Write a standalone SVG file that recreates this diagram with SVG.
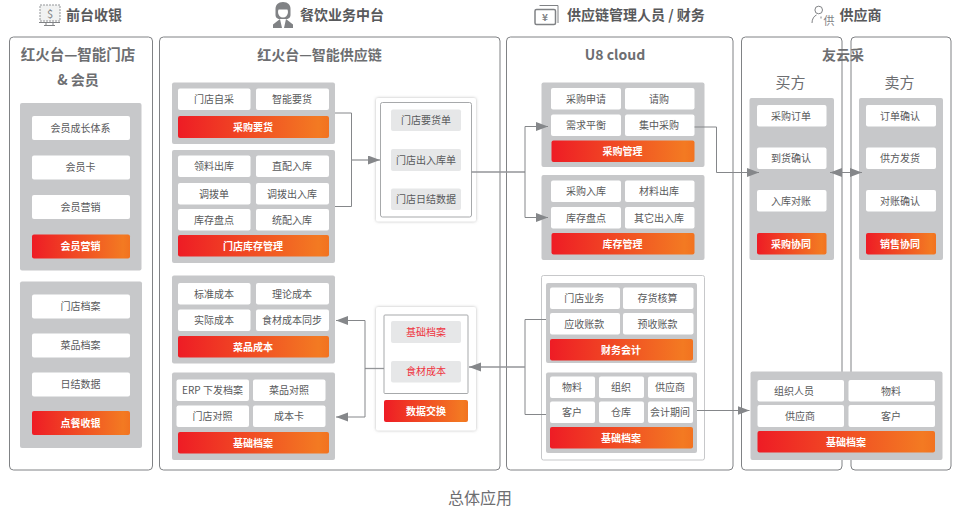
<svg xmlns="http://www.w3.org/2000/svg" width="962" height="516" viewBox="0 0 962 516">
<defs>
<linearGradient id="rg" x1="0" y1="0" x2="1" y2="0"><stop offset="0" stop-color="#ee1c25"/><stop offset="0.93" stop-color="#f37a22"/><stop offset="1" stop-color="#f27220"/></linearGradient>
<filter id="sh" x="-10%" y="-10%" width="120%" height="120%"><feDropShadow dx="0" dy="0" stdDeviation="1.8" flood-color="#888" flood-opacity="0.6"/></filter>
<marker id="ah" markerUnits="userSpaceOnUse" markerWidth="13" markerHeight="10" refX="12" refY="4.500" orient="auto-start-reverse"><path d="M0 0L12 4.500L0 9Z" fill="#85878a"/></marker>
</defs>
<style>
text{font-family:"Noto Sans CJK SC","Noto Sans",sans-serif;text-anchor:middle}
.h{font-size:14px;font-weight:700;fill:#58595b;text-anchor:start}
.t{font-size:14px;font-weight:700;fill:#6d6e71}
.s{font-size:15px;fill:#6d6e71}
.i,.b,.red{font-size:10px;transform:translateY(-.4px)}
.i{fill:#58595b}
.b{font-weight:700;fill:#fff}
.red{fill:#ef3340}
.p{fill:#fff;stroke:#808285;stroke-width:1}
.g{fill:#c7c8ca}
.w{fill:#fff}
.r{fill:url(#rg)}
.c{fill:#fff;filter:url(#sh)}
.e{fill:#e6e7e8}
.f{fill:none;stroke:#a7a9ab;stroke-width:1}
.l{fill:none;stroke:#85878a;stroke-width:1}
.l2{fill:none;stroke:#939598;stroke-width:1.300}
.ic{fill:none;stroke:#808285;stroke-width:1}
</style>
<rect width="962" height="516" fill="#fff"/>

<g id="headers">
<g id="h1"><rect x="40" y="5" width="20" height="16" fill="#f1f2f2" stroke="#939598" stroke-dasharray="2 1"/><path class="ic" d="M39 22.500H60M46 23V25.500M53 23V25.500M44 25.500H55"/><text x="50" y="18" style="font-size:11px;fill:#808285">$</text><text class="h" x="66" y="20">前台收银</text></g>
<g id="h2"><path d="M283 2c-5 0-7.500 3-7.500 7v6c0 2 1 3 3 4h9c2-1 3-2 3-4V9c0-4-2.500-7-7.500-7Z" fill="#808285"/><ellipse cx="283" cy="12" rx="5" ry="5.500" fill="#fff"/><path d="M278 9.500c2 0 7 0 10 0l-1-4h-8Z" fill="#808285"/><path d="M280 19l-7 5.500V28h9ZM286 19l7 5.500V28h-9Z" fill="#808285"/><text class="h" x="300" y="20">餐饮业务中台</text></g>
<g id="h3"><rect x="535" y="9.500" width="20.500" height="15" rx="1.500" fill="none" stroke="#808285" stroke-width="1.500"/><path class="ic" d="M539.500 5.500H558V23"/><text x="545" y="21" style="font-size:10px;font-weight:700;fill:#808285">¥</text><text class="h" x="567" y="20">供应链管理人员 / 财务</text></g>
<g id="h4"><circle cx="818.700" cy="10" r="3.800" class="ic"/><path class="ic" d="M812 23c0-4 2-7 4.500-8M821 16.500v2"/><text x="829" y="24.500" style="font-size:11px;fill:#808285">供</text><text class="h" x="839.500" y="20">供应商</text></g>
</g>

<g id="panels">
<rect class="p" x="9.500" y="37" width="143" height="433" rx="4"/>
<rect class="p" x="159.500" y="37" width="340.500" height="433" rx="4"/>
<rect class="p" x="506.500" y="37" width="226.500" height="433" rx="4"/>
<rect class="p" x="741.500" y="37" width="100.500" height="433" rx="4"/>
<rect class="p" x="851" y="37" width="100" height="433" rx="4"/>
<text class="t" x="78" y="60.400" style="font-size:14.500px">红火台—智能门店</text>
<text class="t" x="78" y="84.700">&amp; 会员</text>
<text class="t" x="319.500" y="60.400">红火台—智能供应链</text>
<text class="t" x="615" y="60.400">U8 cloud</text>
<text class="t" x="843" y="60.400">友云采</text>
<text class="s" x="790.500" y="87.500">买方</text>
<text class="s" x="899.500" y="87.500">卖方</text>
</g>

<g id="n-member"><rect class="g" x="20" y="103" width="121.500" height="167.500" rx="2"/>
<rect class="w" x="32" y="116" width="98" height="24" rx="2"/><text class="i" x="80.500" y="132">会员成长体系</text>
<rect class="w" x="32" y="155.500" width="98" height="24" rx="2"/><text class="i" x="80.500" y="171.500">会员卡</text>
<rect class="w" x="32" y="195" width="98" height="24" rx="2"/><text class="i" x="80.500" y="211">会员营销</text>
<rect class="r" x="32" y="234.500" width="98" height="24" rx="2"/><text class="b" x="80.500" y="250.500">会员营销</text></g>

<g id="n-pos"><rect class="g" x="20" y="281.500" width="122" height="166.500" rx="2"/>
<rect class="w" x="32" y="294.500" width="98" height="24" rx="2"/><text class="i" x="80.500" y="310.500">门店档案</text>
<rect class="w" x="32" y="333.500" width="98" height="24" rx="2"/><text class="i" x="80.500" y="349.500">菜品档案</text>
<rect class="w" x="32" y="372.500" width="98" height="24" rx="2"/><text class="i" x="80.500" y="388.500">日结数据</text>
<rect class="r" x="32" y="411" width="98" height="24" rx="2"/><text class="b" x="80.500" y="427">点餐收银</text></g>

<g id="n-purchase"><rect class="g" x="172" y="82.500" width="163" height="61.500" rx="2"/>
<rect class="w" x="178" y="88.500" width="72.500" height="21.500" rx="2"/><text class="i" x="214" y="103.500">门店自采</text>
<rect class="w" x="256" y="88.500" width="73" height="21.500" rx="2"/><text class="i" x="292" y="103.500">智能要货</text>
<rect class="r" x="178" y="116" width="151" height="22" rx="2"/><text class="b" x="253" y="131">采购要货</text></g>

<g id="n-stock"><rect class="g" x="172" y="150" width="163" height="113" rx="2"/>
<rect class="w" x="178" y="155.500" width="72.500" height="21.500" rx="2"/><text class="i" x="214" y="170.500">领料出库</text>
<rect class="w" x="256" y="155.500" width="73" height="21.500" rx="2"/><text class="i" x="292" y="170.500">直配入库</text>
<rect class="w" x="178" y="183" width="72.500" height="21.500" rx="2"/><text class="i" x="214" y="198">调拨单</text>
<rect class="w" x="256" y="183" width="73" height="21.500" rx="2"/><text class="i" x="292" y="198">调拨出入库</text>
<rect class="w" x="178" y="209" width="72.500" height="21.500" rx="2"/><text class="i" x="214" y="224">库存盘点</text>
<rect class="w" x="256" y="209" width="73" height="21.500" rx="2"/><text class="i" x="292" y="224">统配入库</text>
<rect class="r" x="178" y="235" width="151" height="21.500" rx="2"/><text class="b" x="253" y="250">门店库存管理</text></g>

<g id="n-cost"><rect class="g" x="172" y="275.500" width="163" height="88" rx="2"/>
<rect class="w" x="178" y="283" width="72.500" height="21.500" rx="2"/><text class="i" x="214" y="298">标准成本</text>
<rect class="w" x="256" y="283" width="73" height="21.500" rx="2"/><text class="i" x="292" y="298">理论成本</text>
<rect class="w" x="178" y="309.500" width="72.500" height="21.500" rx="2"/><text class="i" x="214" y="324.500">实际成本</text>
<rect class="w" x="256" y="309.500" width="73" height="21.500" rx="2"/><text class="i" x="292" y="324.500">食材成本同步</text>
<rect class="r" x="178" y="336" width="151" height="21.500" rx="2"/><text class="b" x="253" y="351">菜品成本</text></g>

<g id="n-base"><rect class="g" x="172" y="372.500" width="163" height="87.500" rx="2"/>
<rect class="w" x="176.500" y="379.500" width="72.500" height="21.500" rx="2"/><text class="i" x="212.500" y="394.500">ERP 下发档案</text>
<rect class="w" x="253" y="379.500" width="72.500" height="21.500" rx="2"/><text class="i" x="289" y="394.500">菜品对照</text>
<rect class="w" x="176.500" y="405.500" width="72.500" height="21.500" rx="2"/><text class="i" x="212.500" y="420.500">门店对照</text>
<rect class="w" x="253" y="405.500" width="72.500" height="21.500" rx="2"/><text class="i" x="289" y="420.500">成本卡</text>
<rect class="r" x="178" y="432" width="151" height="21.500" rx="2"/><text class="b" x="253" y="447">基础档案</text></g>

<g id="n-docs"><rect class="c" x="376" y="98" width="100" height="123.500" rx="2"/><rect class="f" x="380.500" y="102.500" width="91" height="114.500" rx="2"/>
<rect class="e" x="391" y="109.500" width="70" height="21.500" rx="2"/><text class="i" x="426" y="124.500">门店要货单</text>
<rect class="e" x="391" y="149" width="70" height="22" rx="2"/><text class="i" x="426" y="164">门店出入库单</text>
<rect class="e" x="391" y="188.500" width="70" height="21.500" rx="2"/><text class="i" x="426" y="203.500">门店日结数据</text></g>

<g id="n-exchange"><rect class="c" x="376" y="307" width="100" height="123.500" rx="2"/><rect class="f" x="384" y="315" width="84" height="78.500" rx="1"/>
<rect class="e" x="391" y="321" width="70" height="22" rx="2"/><text class="red" x="426" y="336">基础档案</text>
<rect class="e" x="391" y="361" width="70" height="21.500" rx="2"/><text class="red" x="426" y="375.500">食材成本</text>
<rect class="r" x="384" y="400" width="84" height="22" rx="2"/><text class="b" x="426" y="415">数据交换</text></g>

<g id="n-u8-purchase"><rect class="g" x="541.500" y="82.500" width="163" height="84.500" rx="2"/>
<rect class="w" x="551" y="88" width="70" height="21.500" rx="2"/><text class="i" x="586" y="103">采购申请</text>
<rect class="w" x="625" y="88" width="69.500" height="21.500" rx="2"/><text class="i" x="659" y="103">请购</text>
<rect class="w" x="551" y="114.500" width="70" height="21.500" rx="2"/><text class="i" x="586" y="129.500">需求平衡</text>
<rect class="w" x="625" y="114.500" width="69.500" height="21.500" rx="2"/><text class="i" x="659" y="129.500">集中采购</text>
<rect class="r" x="551.500" y="140.500" width="143" height="21.500" rx="2"/><text class="b" x="622.500" y="155.500">采购管理</text></g>

<g id="n-u8-stock"><rect class="g" x="541.500" y="175" width="163" height="85" rx="2"/>
<rect class="w" x="551" y="180.500" width="70" height="21.500" rx="2"/><text class="i" x="586" y="195.500">采购入库</text>
<rect class="w" x="625" y="180.500" width="69.500" height="21.500" rx="2"/><text class="i" x="659" y="195.500">材料出库</text>
<rect class="w" x="551" y="207" width="70" height="21.500" rx="2"/><text class="i" x="586" y="222">库存盘点</text>
<rect class="w" x="625" y="207" width="69.500" height="21.500" rx="2"/><text class="i" x="659" y="222">其它出入库</text>
<rect class="r" x="551.500" y="233" width="143" height="21.500" rx="2"/><text class="b" x="622.500" y="248">库存管理</text></g>

<g id="n-u8-card"><rect x="541.500" y="275.500" width="163" height="184.500" rx="2" fill="#fff" stroke="#c7c8ca"/>
<g id="n-u8-fin"><rect class="g" x="546" y="283" width="151" height="80" rx="2"/>
<rect class="w" x="550" y="287.500" width="70" height="21.500" rx="2"/><text class="i" x="584.300" y="302.500">门店业务</text>
<rect class="w" x="623" y="287.500" width="70.500" height="21.500" rx="2"/><text class="i" x="657.500" y="302.500">存货核算</text>
<rect class="w" x="550" y="313" width="70" height="21.500" rx="2"/><text class="i" x="584.300" y="328">应收账款</text>
<rect class="w" x="623" y="313" width="70.500" height="21.500" rx="2"/><text class="i" x="657.500" y="328">预收账款</text>
<rect class="r" x="550" y="339" width="143" height="21.500" rx="2"/><text class="b" x="621" y="354">财务会计</text></g>
<g id="n-u8-base"><rect class="g" x="546" y="372.500" width="151" height="80.500" rx="2"/>
<rect class="w" x="550" y="376.500" width="45" height="21.500" rx="2"/><text class="i" x="572" y="391.500">物料</text>
<rect class="w" x="599" y="376.500" width="45" height="21.500" rx="2"/><text class="i" x="621" y="391.500">组织</text>
<rect class="w" x="648" y="376.500" width="45" height="21.500" rx="2"/><text class="i" x="670" y="391.500">供应商</text>
<rect class="w" x="550" y="401.500" width="45" height="21.500" rx="2"/><text class="i" x="572" y="416.500">客户</text>
<rect class="w" x="599" y="401.500" width="45" height="21.500" rx="2"/><text class="i" x="621" y="416.500">仓库</text>
<rect class="w" x="648" y="401.500" width="45" height="21.500" rx="2"/><text class="i" x="670" y="416.500">会计期间</text>
<rect class="r" x="550" y="427" width="143" height="21.500" rx="2"/><text class="b" x="621" y="442">基础档案</text></g></g>

<g id="n-buyer"><rect class="g" x="749.500" y="98" width="84.500" height="162" rx="2"/>
<rect class="w" x="757" y="105" width="69.500" height="21.500" rx="2"/><text class="i" x="791" y="120">采购订单</text>
<rect class="w" x="757" y="147.500" width="69.500" height="21.500" rx="2"/><text class="i" x="791" y="162.500">到货确认</text>
<rect class="w" x="757" y="190" width="69.500" height="21.500" rx="2"/><text class="i" x="791" y="205">入库对账</text>
<rect class="r" x="757" y="233" width="69.500" height="21.500" rx="2"/><text class="b" x="791" y="248">采购协同</text></g>

<g id="n-seller"><rect class="g" x="859" y="98" width="84" height="162" rx="2"/>
<rect class="w" x="866" y="105" width="70" height="21.500" rx="2"/><text class="i" x="900" y="120">订单确认</text>
<rect class="w" x="866" y="147.500" width="70" height="21.500" rx="2"/><text class="i" x="900" y="162.500">供方发货</text>
<rect class="w" x="866" y="190" width="70" height="21.500" rx="2"/><text class="i" x="900" y="205">对账确认</text>
<rect class="r" x="866" y="233" width="70" height="21.500" rx="2"/><text class="b" x="900" y="248">销售协同</text></g>

<g id="n-yun-base"><rect class="g" x="750.500" y="371.500" width="192" height="88.500" rx="2"/>
<rect class="w" x="757.500" y="380" width="86.500" height="21.500" rx="2"/><text class="i" x="794" y="395">组织人员</text>
<rect class="w" x="848.500" y="380" width="86.500" height="21.500" rx="2"/><text class="i" x="891" y="395">物料</text>
<rect class="w" x="757.500" y="405" width="86.500" height="22" rx="2"/><text class="i" x="800" y="420">供应商</text>
<rect class="w" x="848.500" y="405" width="86.500" height="22" rx="2"/><text class="i" x="891" y="420">客户</text>
<rect class="r" x="757.500" y="431" width="177.500" height="21.500" rx="2"/><text class="b" x="846" y="446">基础档案</text></g>

<g id="connectors">
<path class="l" d="M335 113H351.500V206.500H335"/>
<path class="l2" d="M351.500 160H380" marker-end="url(#ah)"/>
<path class="l2" d="M471.500 172H525"/>
<path class="l" d="M548 126.500H525V217.500H548" marker-end="url(#ah)" marker-start="url(#ah)"/>
<path class="l" d="M694.500 127H716.500V172.500H759" marker-end="url(#ah)"/>
<path class="l" d="M830 172.500H862" marker-end="url(#ah)" marker-start="url(#ah)"/>
<path class="l" d="M546 319.500H525V414.500H546"/>
<path class="l2" d="M525 367H469" marker-end="url(#ah)"/>
<path class="l2" d="M384 368.500H365"/>
<path class="l" d="M336 320.500H365V417H336" marker-end="url(#ah)" marker-start="url(#ah)"/>
<path class="l" d="M697 410.500H749.500" marker-end="url(#ah)"/>
</g>
<text x="480" y="503.800" style="font-size:16px;fill:#6d6e71">总体应用</text>
</svg>
